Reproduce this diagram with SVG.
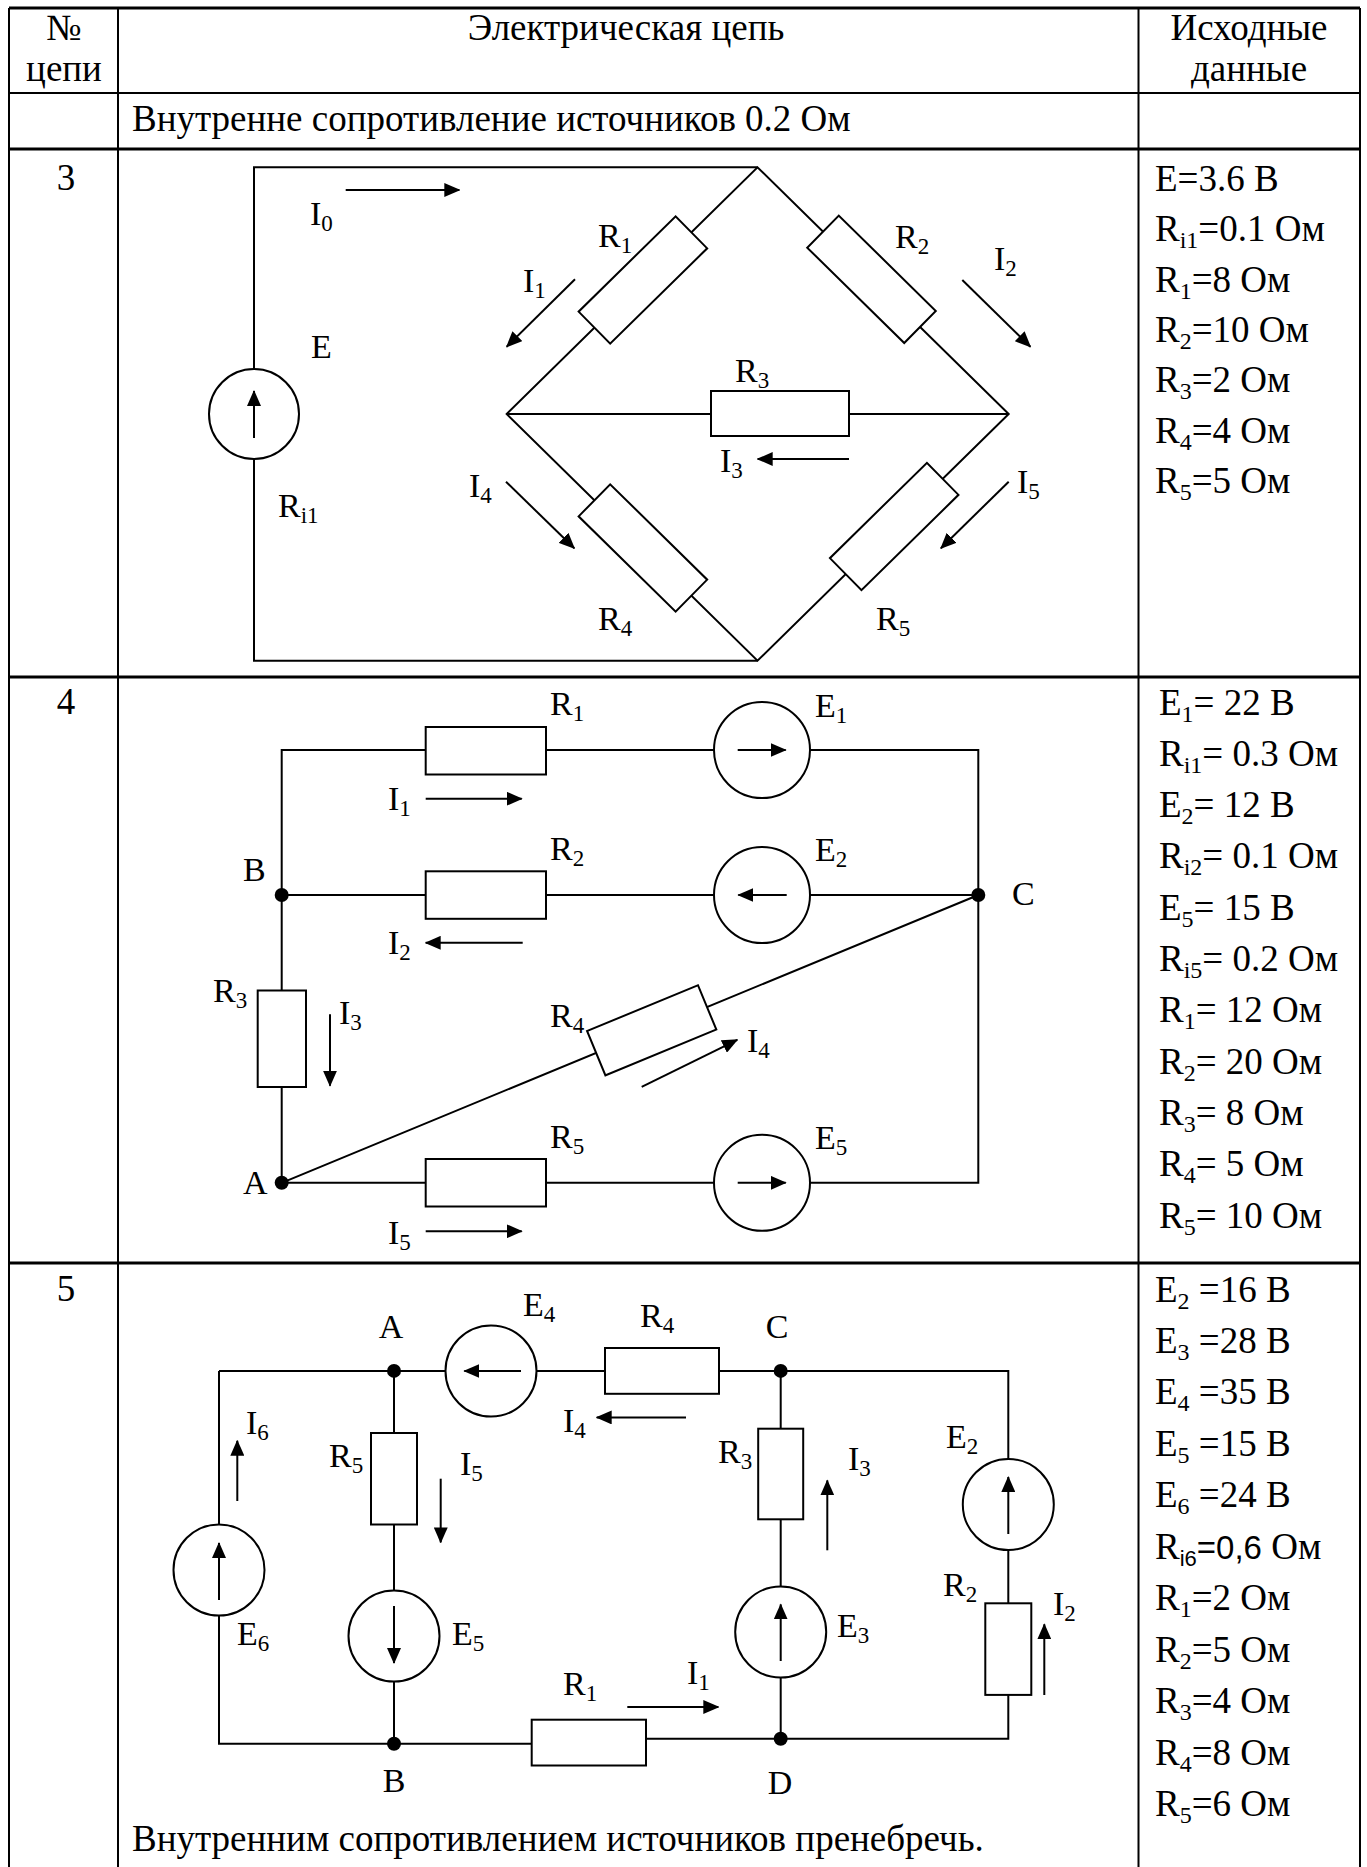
<svg xmlns="http://www.w3.org/2000/svg" width="1367" height="1867" viewBox="0 0 1367 1867">
<defs>
<style>
.w{fill:none;stroke:#000;stroke-width:2}
.tb{fill:none;stroke:#000;stroke-width:2}
.tk{stroke-width:3}
.r{fill:#fff;stroke:#000;stroke-width:2}
.a{fill:none;stroke:#000;stroke-width:2;marker-end:url(#ah)}
.d{fill:#000}
text{font-family:"Liberation Serif","Times New Roman",serif;fill:#000}
.tx{font-size:37px}
.lb{font-size:34px}
.s{font-size:23px}
.s2{font-size:24px}
.m{text-anchor:middle}
.sans{font-family:"Liberation Sans",Arial,sans-serif;font-size:33px}
.ss{font-family:"Liberation Sans",Arial,sans-serif;font-size:22px}
</style>
<marker id="ah" viewBox="0 0 16 14" refX="15" refY="7" markerWidth="16" markerHeight="14" markerUnits="userSpaceOnUse" orient="auto"><path d="M0,0 L16,7 L0,14 Z" fill="#000"/></marker>
</defs>
<rect width="1367" height="1867" fill="#fff"/>

<g id="table">
<path class="tb" d="M9,8 V1867 M118,8 V1867 M1138.5,8 V1867 M1360,8 V1867"/>
<path class="tb tk" d="M9,8 H1360 M9,149 H1360 M9,677 H1360 M9,1263 H1360"/>
<path class="tb" d="M9,93 H1360"/>
<text class="tx m" x="64" y="40">№</text>
<text class="tx m" x="64" y="81">цепи</text>
<text class="tx m" x="626" y="40">Электрическая цепь</text>
<text class="tx m" x="1249" y="40">Исходные</text>
<text class="tx m" x="1249" y="81">данные</text>
<text class="tx" x="132" y="131">Внутренне сопротивление источников 0.2 Ом</text>
<text class="tx m" x="66" y="190">3</text>
<text class="tx m" x="66" y="714">4</text>
<text class="tx m" x="66" y="1301">5</text>
<text class="tx" x="132" y="1851">Внутренним сопротивлением источников пренебречь.</text>
</g>

<g id="data3">
<text class="tx" x="1155" y="190.6">E=3.6 В</text>
<text class="tx" x="1155" y="241">R<tspan class="s2" dy="7">i1</tspan><tspan dy="-7">=0.1 Ом</tspan></text>
<text class="tx" x="1155" y="291.5">R<tspan class="s2" dy="7">1</tspan><tspan dy="-7">=8 Ом</tspan></text>
<text class="tx" x="1155" y="342">R<tspan class="s2" dy="7">2</tspan><tspan dy="-7">=10 Ом</tspan></text>
<text class="tx" x="1155" y="392.4">R<tspan class="s2" dy="7">3</tspan><tspan dy="-7">=2 Ом</tspan></text>
<text class="tx" x="1155" y="442.9">R<tspan class="s2" dy="7">4</tspan><tspan dy="-7">=4 Ом</tspan></text>
<text class="tx" x="1155" y="493.3">R<tspan class="s2" dy="7">5</tspan><tspan dy="-7">=5 Ом</tspan></text>
</g>
<g id="data4">
<text class="tx" x="1159" y="714.5">E<tspan class="s2" dy="7">1</tspan><tspan dy="-7">= 22 В</tspan></text>
<text class="tx" x="1159" y="765.8">R<tspan class="s2" dy="7">i1</tspan><tspan dy="-7">= 0.3 Ом</tspan></text>
<text class="tx" x="1159" y="817.1">E<tspan class="s2" dy="7">2</tspan><tspan dy="-7">= 12 В</tspan></text>
<text class="tx" x="1159" y="868.4">R<tspan class="s2" dy="7">i2</tspan><tspan dy="-7">= 0.1 Ом</tspan></text>
<text class="tx" x="1159" y="919.7">E<tspan class="s2" dy="7">5</tspan><tspan dy="-7">= 15 В</tspan></text>
<text class="tx" x="1159" y="971">R<tspan class="s2" dy="7">i5</tspan><tspan dy="-7">= 0.2 Ом</tspan></text>
<text class="tx" x="1159" y="1022.3">R<tspan class="s2" dy="7">1</tspan><tspan dy="-7">= 12 Ом</tspan></text>
<text class="tx" x="1159" y="1073.6">R<tspan class="s2" dy="7">2</tspan><tspan dy="-7">= 20 Ом</tspan></text>
<text class="tx" x="1159" y="1124.9">R<tspan class="s2" dy="7">3</tspan><tspan dy="-7">= 8 Ом</tspan></text>
<text class="tx" x="1159" y="1176.2">R<tspan class="s2" dy="7">4</tspan><tspan dy="-7">= 5 Ом</tspan></text>
<text class="tx" x="1159" y="1227.5">R<tspan class="s2" dy="7">5</tspan><tspan dy="-7">= 10 Ом</tspan></text>
</g>
<g id="data5">
<text class="tx" x="1155" y="1301.5">E<tspan class="s2" dy="7">2</tspan><tspan dy="-7"> =16 В</tspan></text>
<text class="tx" x="1155" y="1353">E<tspan class="s2" dy="7">3</tspan><tspan dy="-7"> =28 В</tspan></text>
<text class="tx" x="1155" y="1404.4">E<tspan class="s2" dy="7">4</tspan><tspan dy="-7"> =35 В</tspan></text>
<text class="tx" x="1155" y="1455.9">E<tspan class="s2" dy="7">5</tspan><tspan dy="-7"> =15 В</tspan></text>
<text class="tx" x="1155" y="1507.3">E<tspan class="s2" dy="7">6</tspan><tspan dy="-7"> =24 В</tspan></text>
<text class="tx" x="1155" y="1558.8">R<tspan class="ss" dy="7">i6</tspan><tspan class="sans" dy="-7">=0,6</tspan> Ом</text>
<text class="tx" x="1155" y="1610.2">R<tspan class="s2" dy="7">1</tspan><tspan dy="-7">=2 Ом</tspan></text>
<text class="tx" x="1155" y="1661.7">R<tspan class="s2" dy="7">2</tspan><tspan dy="-7">=5 Ом</tspan></text>
<text class="tx" x="1155" y="1713.1">R<tspan class="s2" dy="7">3</tspan><tspan dy="-7">=4 Ом</tspan></text>
<text class="tx" x="1155" y="1764.6">R<tspan class="s2" dy="7">4</tspan><tspan dy="-7">=8 Ом</tspan></text>
<text class="tx" x="1155" y="1816">R<tspan class="s2" dy="7">5</tspan><tspan dy="-7">=6 Ом</tspan></text>
</g>

<g id="connectors">
<path class="w" d="M254,369 V167.3 H757.5 M254,459 V660.7 H757.5"/>
<path class="w" d="M506.7,414 L757.5,167.3 L1008.7,414 L757.5,660.7 Z M506.7,414 H1008.7"/>
<path class="w" d="M281.7,750 H978.3 V1182.8 H281.7 Z M281.7,895 H978.3 M281.7,1182.8 L978.3,895"/>
<path class="w" d="M219,1370.9 H1008.3 V1738.7 H646 M219,1370.9 V1743.8 H531.7 M394,1370.9 V1743.8 M780.7,1370.9 V1738.7"/>
</g>

<g id="c3-E"><circle class="r" cx="254" cy="414" r="45"/><line class="a" x1="254" y1="438" x2="254" y2="391"/><text class="lb" x="311" y="358">E</text><text class="lb" x="278" y="517">R<tspan class="s" dy="6">i1</tspan></text></g>
<g id="c3-R1"><rect class="r" x="-68" y="-22.5" width="136" height="45" transform="translate(642.9 280) rotate(-44.5)"/><text class="lb" x="598" y="247">R<tspan class="s" dy="6">1</tspan></text></g>
<g id="c3-R2"><rect class="r" x="-68" y="-22.5" width="136" height="45" transform="translate(871.5 279.3) rotate(44.5)"/><text class="lb" x="895" y="248">R<tspan class="s" dy="6">2</tspan></text></g>
<g id="c3-R3"><rect class="r" x="711" y="391" width="138" height="45"/><text class="lb" x="735" y="382">R<tspan class="s" dy="6">3</tspan></text></g>
<g id="c3-R4"><rect class="r" x="-68" y="-22.5" width="136" height="45" transform="translate(642.9 548) rotate(44.5)"/><text class="lb" x="598" y="630">R<tspan class="s" dy="6">4</tspan></text></g>
<g id="c3-R5"><rect class="r" x="-68" y="-22.5" width="136" height="45" transform="translate(894.2 526.5) rotate(-44.5)"/><text class="lb" x="876" y="630">R<tspan class="s" dy="6">5</tspan></text></g>
<g id="c3-currents">
<line class="a" x1="345.7" y1="190" x2="459.3" y2="190"/><text class="lb" x="310" y="225">I<tspan class="s" dy="6">0</tspan></text>
<line class="a" x1="575" y1="279.3" x2="506.7" y2="346.7"/><text class="lb" x="523" y="292">I<tspan class="s" dy="6">1</tspan></text>
<line class="a" x1="962.3" y1="280" x2="1030.4" y2="346.7"/><text class="lb" x="994" y="270">I<tspan class="s" dy="6">2</tspan></text>
<line class="a" x1="849" y1="459" x2="757.7" y2="459"/><text class="lb" x="720" y="472">I<tspan class="s" dy="6">3</tspan></text>
<line class="a" x1="506" y1="481.7" x2="574.3" y2="548.3"/><text class="lb" x="469" y="497">I<tspan class="s" dy="6">4</tspan></text>
<line class="a" x1="1008.7" y1="481.7" x2="940.9" y2="548.3"/><text class="lb" x="1017" y="493">I<tspan class="s" dy="6">5</tspan></text>
</g>

<g id="c4-R1"><rect class="r" x="425.7" y="727" width="120.3" height="47.5"/><text class="lb" x="550" y="715">R<tspan class="s" dy="6">1</tspan></text></g>
<g id="c4-E1"><circle class="r" cx="762" cy="750" r="48"/><line class="a" x1="737.7" y1="750" x2="785.7" y2="750"/><text class="lb" x="815" y="717">E<tspan class="s" dy="6">1</tspan></text></g>
<g id="c4-R2"><rect class="r" x="425.7" y="871.3" width="120.3" height="47.5"/><text class="lb" x="550" y="860">R<tspan class="s" dy="6">2</tspan></text></g>
<g id="c4-E2"><circle class="r" cx="762" cy="895" r="48"/><line class="a" x1="786.7" y1="895" x2="738.3" y2="895"/><text class="lb" x="815" y="861">E<tspan class="s" dy="6">2</tspan></text></g>
<g id="c4-R3"><rect class="r" x="257.7" y="990.5" width="48.3" height="96.5"/><text class="lb" x="213" y="1002">R<tspan class="s" dy="6">3</tspan></text></g>
<g id="c4-R4"><rect class="r" x="-60" y="-24" width="120" height="48" transform="translate(651.7 1030.3) rotate(-22.45)"/><text class="lb" x="550" y="1027">R<tspan class="s" dy="6">4</tspan></text></g>
<g id="c4-R5"><rect class="r" x="425.7" y="1159" width="120.3" height="47.5"/><text class="lb" x="550" y="1148">R<tspan class="s" dy="6">5</tspan></text></g>
<g id="c4-E5"><circle class="r" cx="762" cy="1182.8" r="48"/><line class="a" x1="737.7" y1="1182.8" x2="785.7" y2="1182.8"/><text class="lb" x="815" y="1149">E<tspan class="s" dy="6">5</tspan></text></g>
<g id="c4-B"><circle class="d" cx="281.7" cy="895" r="7"/><text class="lb" x="243" y="881">B</text></g>
<g id="c4-C"><circle class="d" cx="978.3" cy="895" r="7"/><text class="lb" x="1012" y="905">C</text></g>
<g id="c4-A"><circle class="d" cx="281.7" cy="1182.8" r="7"/><text class="lb" x="243" y="1194">A</text></g>
<g id="c4-currents">
<line class="a" x1="425.7" y1="798.7" x2="521.7" y2="798.7"/><text class="lb" x="388" y="810">I<tspan class="s" dy="6">1</tspan></text>
<line class="a" x1="522.7" y1="942.8" x2="425.7" y2="942.8"/><text class="lb" x="388" y="954">I<tspan class="s" dy="6">2</tspan></text>
<line class="a" x1="330" y1="1014.2" x2="330" y2="1085.7"/><text class="lb" x="339" y="1024">I<tspan class="s" dy="6">3</tspan></text>
<line class="a" x1="641.7" y1="1086.9" x2="737.3" y2="1039.8"/><text class="lb" x="747" y="1052">I<tspan class="s" dy="6">4</tspan></text>
<line class="a" x1="425.7" y1="1231.3" x2="521.7" y2="1231.3"/><text class="lb" x="388" y="1244">I<tspan class="s" dy="6">5</tspan></text>
</g>

<g id="c5-E4"><circle class="r" cx="491" cy="1371" r="45.5"/><line class="a" x1="521" y1="1371" x2="464.3" y2="1371"/><text class="lb" x="523" y="1316">E<tspan class="s" dy="6">4</tspan></text></g>
<g id="c5-R4"><rect class="r" x="605" y="1348" width="114" height="45.8"/><text class="lb" x="640" y="1327">R<tspan class="s" dy="6">4</tspan></text></g>
<g id="c5-E6"><circle class="r" cx="219" cy="1570" r="45.5"/><line class="a" x1="219" y1="1600" x2="219" y2="1543"/><text class="lb" x="237" y="1645">E<tspan class="s" dy="6">6</tspan></text></g>
<g id="c5-R5"><rect class="r" x="371" y="1433" width="46" height="91.5"/><text class="lb" x="329" y="1467">R<tspan class="s" dy="6">5</tspan></text></g>
<g id="c5-E5"><circle class="r" cx="394" cy="1636" r="45.5"/><line class="a" x1="394" y1="1606" x2="394" y2="1663"/><text class="lb" x="452" y="1645">E<tspan class="s" dy="6">5</tspan></text></g>
<g id="c5-R1"><rect class="r" x="531.7" y="1719.7" width="114.3" height="45.8"/><text class="lb" x="563" y="1695">R<tspan class="s" dy="6">1</tspan></text></g>
<g id="c5-R3"><rect class="r" x="758.2" y="1428.7" width="45" height="90.6"/><text class="lb" x="718" y="1463">R<tspan class="s" dy="6">3</tspan></text></g>
<g id="c5-E3"><circle class="r" cx="780.7" cy="1632" r="45.5"/><line class="a" x1="780.7" y1="1661" x2="780.7" y2="1604.4"/><text class="lb" x="837" y="1637">E<tspan class="s" dy="6">3</tspan></text></g>
<g id="c5-E2"><circle class="r" cx="1008.3" cy="1504.5" r="45.5"/><line class="a" x1="1008.3" y1="1534" x2="1008.3" y2="1477"/><text class="lb" x="946" y="1448">E<tspan class="s" dy="6">2</tspan></text></g>
<g id="c5-R2"><rect class="r" x="985.3" y="1603.3" width="46" height="91.6"/><text class="lb" x="943" y="1596">R<tspan class="s" dy="6">2</tspan></text></g>
<g id="c5-A"><circle class="d" cx="394" cy="1370.9" r="7"/><text class="lb m" x="391" y="1338">A</text></g>
<g id="c5-C"><circle class="d" cx="780.7" cy="1370.9" r="7"/><text class="lb m" x="777" y="1338">C</text></g>
<g id="c5-B"><circle class="d" cx="394" cy="1743.8" r="7"/><text class="lb m" x="394" y="1792">B</text></g>
<g id="c5-D"><circle class="d" cx="780.7" cy="1738.7" r="7"/><text class="lb m" x="780" y="1794">D</text></g>
<g id="c5-currents">
<line class="a" x1="686" y1="1417.4" x2="596.7" y2="1417.4"/><text class="lb" x="563" y="1432">I<tspan class="s" dy="6">4</tspan></text>
<line class="a" x1="237.3" y1="1501" x2="237.3" y2="1440.8"/><text class="lb" x="246" y="1434">I<tspan class="s" dy="6">6</tspan></text>
<line class="a" x1="440.7" y1="1478.7" x2="440.7" y2="1542.4"/><text class="lb" x="460" y="1475">I<tspan class="s" dy="6">5</tspan></text>
<line class="a" x1="627.3" y1="1707" x2="718.3" y2="1707"/><text class="lb" x="687" y="1684">I<tspan class="s" dy="6">1</tspan></text>
<line class="a" x1="827.3" y1="1550.3" x2="827.3" y2="1480.4"/><text class="lb" x="848" y="1470">I<tspan class="s" dy="6">3</tspan></text>
<line class="a" x1="1044.3" y1="1695" x2="1044.3" y2="1624.3"/><text class="lb" x="1053" y="1615">I<tspan class="s" dy="6">2</tspan></text>
</g>
</svg>
